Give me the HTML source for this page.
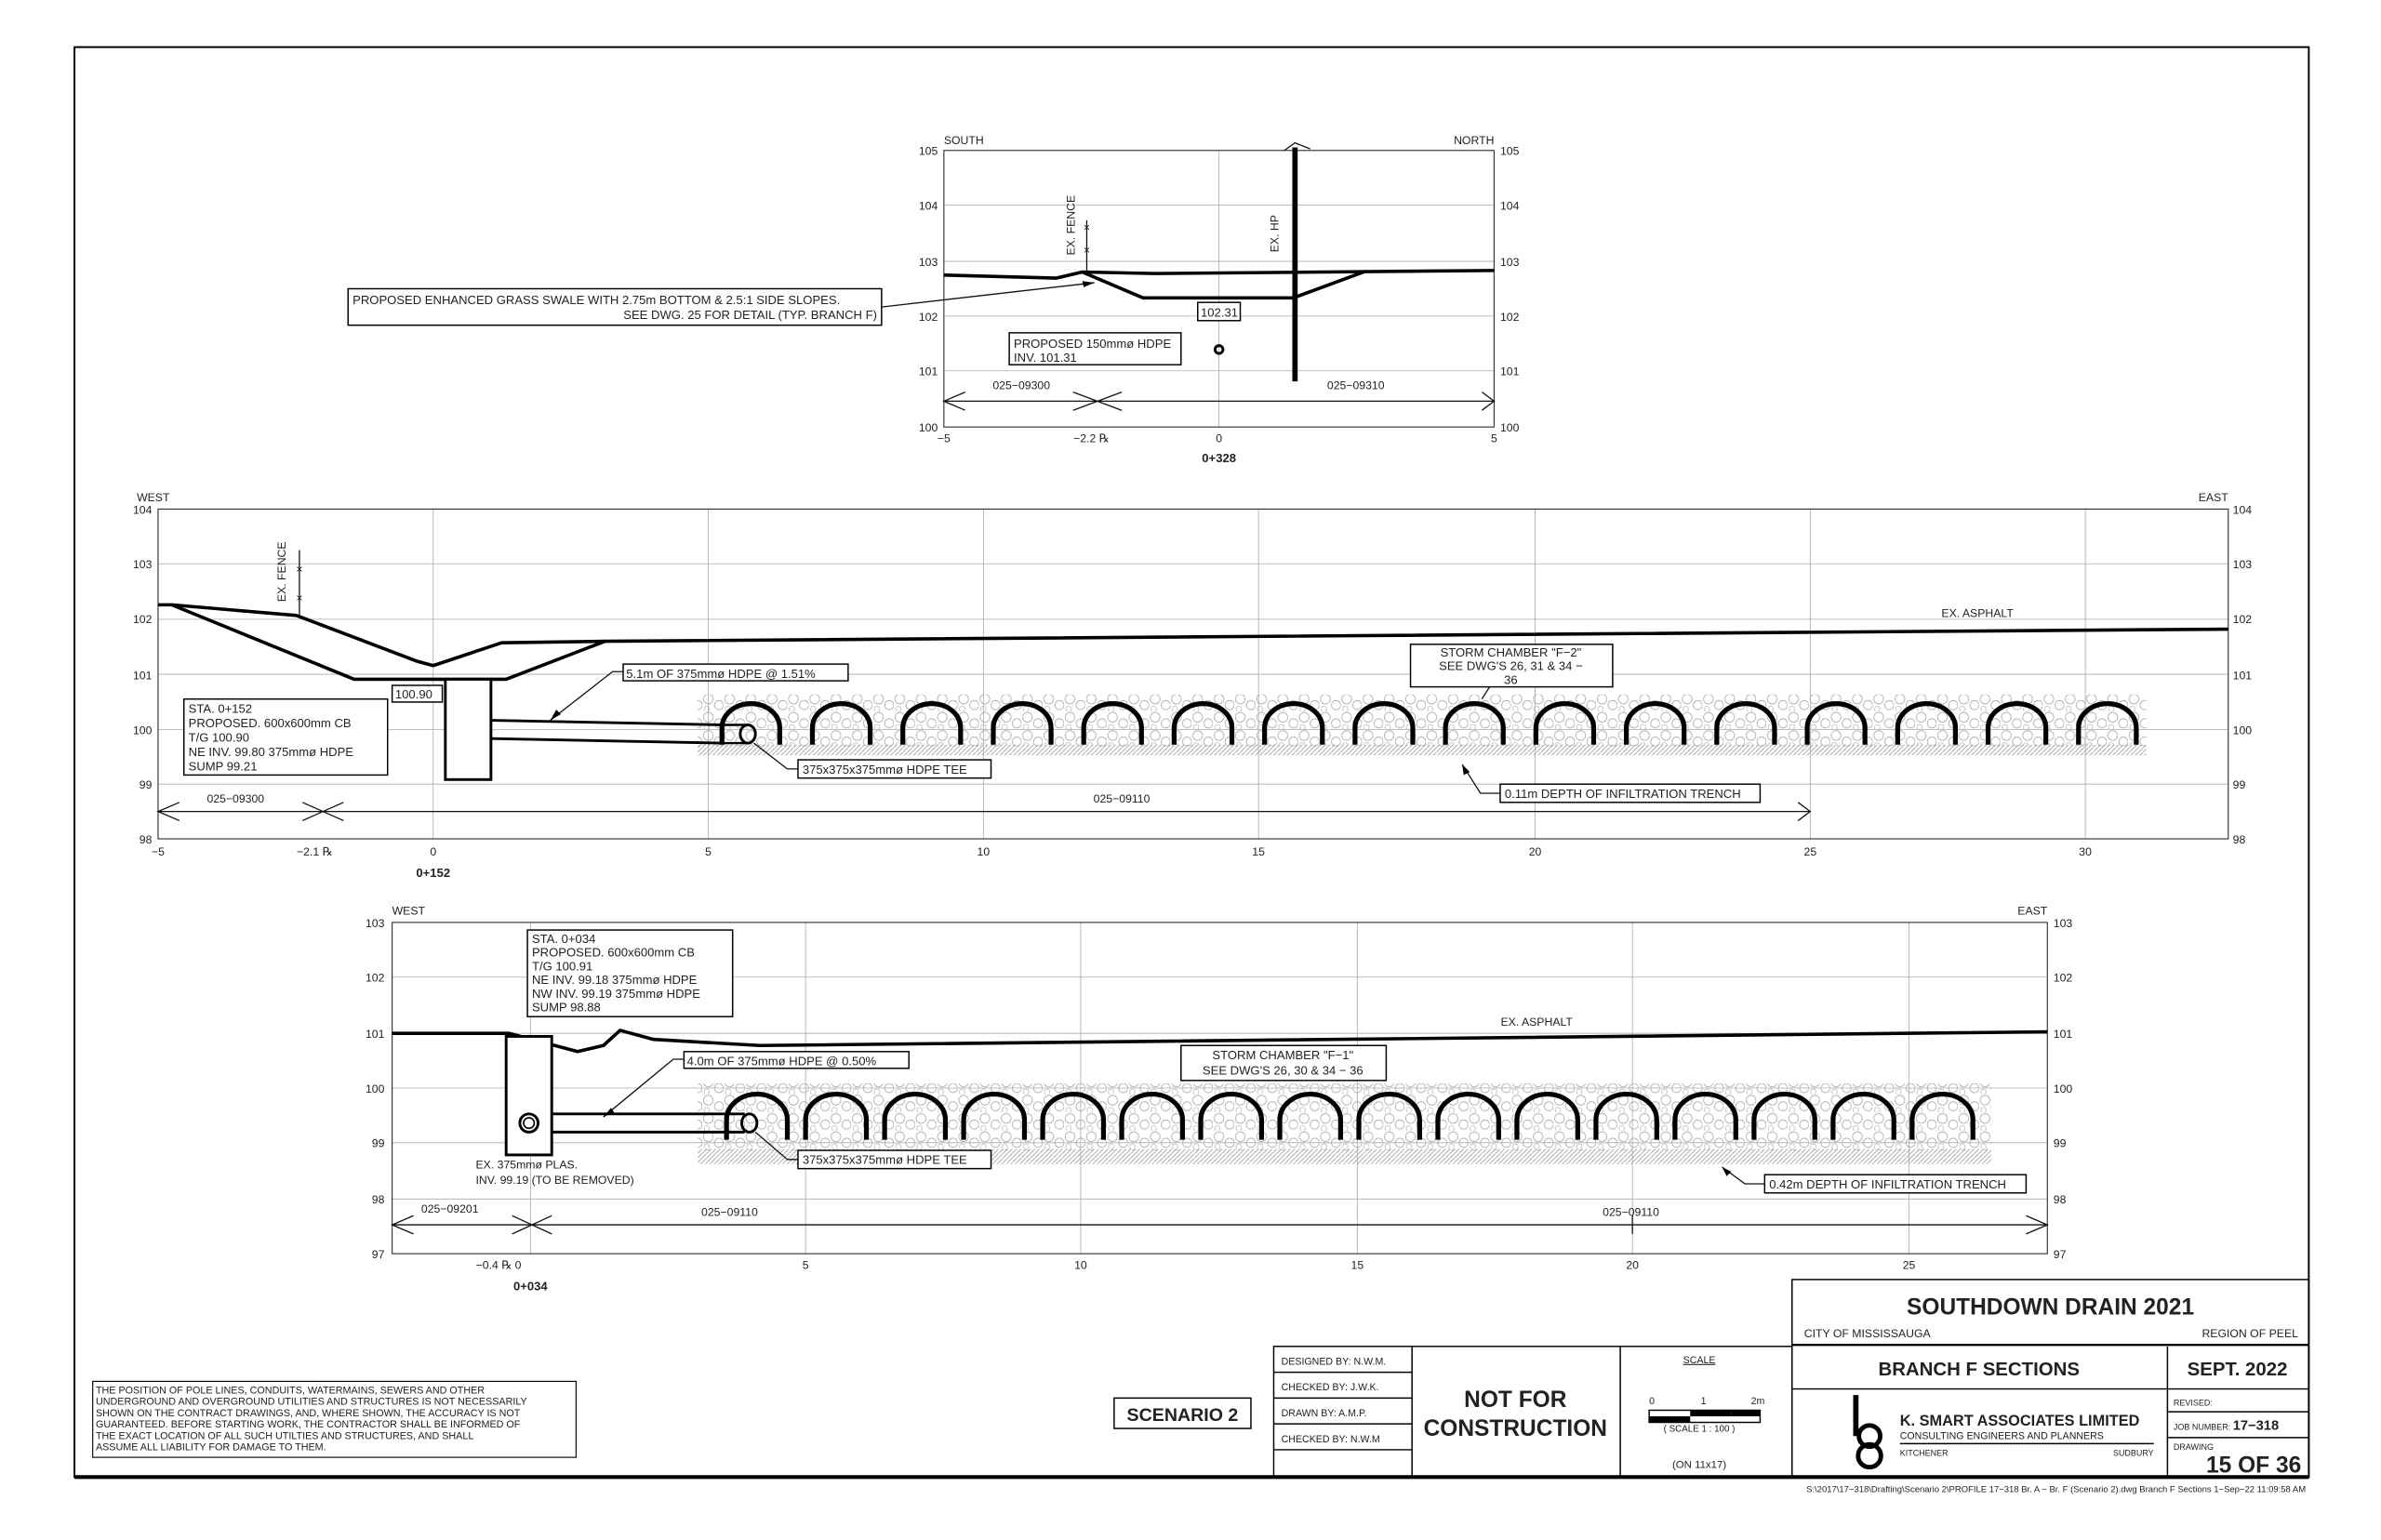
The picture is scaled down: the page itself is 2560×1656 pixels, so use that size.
<!DOCTYPE html>
<html><head><meta charset="utf-8"><style>
html,body{margin:0;padding:0;background:#fff}
svg{display:block}
text{font-family:"Liberation Sans",sans-serif;fill:#222}
.g{stroke:#aaa;stroke-width:.5;fill:none}
.a{stroke:#111;stroke-width:.8;fill:none}
.t{stroke:#000;stroke-width:2.2;fill:none;stroke-linejoin:round}
.s{font-size:7.5px}
.m{font-size:8px}
.b{font-weight:bold}
.box{fill:#fff;stroke:#000;stroke-width:.9}
</style></head><body>
<svg width="2560" height="1656" viewBox="0 0 1566.5 1013.4" preserveAspectRatio="none" xmlns="http://www.w3.org/2000/svg">
<defs>
<pattern id="grav" width="14" height="12" patternUnits="userSpaceOnUse">
<circle cx="4" cy="4" r="3.2" fill="none" stroke="#aaa" stroke-width=".5"/>
<circle cx="11" cy="8" r="3" fill="none" stroke="#aaa" stroke-width=".5"/>
<circle cx="3" cy="10.5" r="1.8" fill="none" stroke="#bbb" stroke-width=".5"/>
</pattern>
<pattern id="hat" width="3" height="3" patternUnits="userSpaceOnUse">
<path d="M0,3 L3,0" stroke="#999" stroke-width=".5"/>
</pattern>
<g id="arch1"><path d="M0,28 L0,17 A19,16 0 0 1 38,17 L38,28" fill="none" stroke="#000" stroke-width="3.2"/></g>
<g id="arch2"><path d="M0,32 L0,19 A20,17 0 0 1 40,19 L40,32" fill="none" stroke="#000" stroke-width="3.2"/></g>
</defs>

<rect x="49" y="31" width="1470" height="941" fill="none" stroke="#000" stroke-width="1.2"/>
<line x1="49" y1="972" x2="1519" y2="972" stroke="#000" stroke-width="2.5"/>

<!-- TOP -->
<g>
<line class="g" x1="621" y1="135" x2="983" y2="135"/>
<line class="g" x1="621" y1="172" x2="983" y2="172"/>
<line class="g" x1="621" y1="208" x2="983" y2="208"/>
<line class="g" x1="621" y1="244" x2="983" y2="244"/>
<line class="g" x1="802" y1="99" x2="802" y2="281"/>
<rect x="621" y="99" width="362" height="182" fill="none" stroke="#333" stroke-width=".7"/>
<g class="s" text-anchor="end"><text x="617" y="102">105</text><text x="617" y="138">104</text><text x="617" y="175">103</text><text x="617" y="211">102</text><text x="617" y="247">101</text><text x="617" y="284">100</text></g>
<g class="s"><text x="987" y="102">105</text><text x="987" y="138">104</text><text x="987" y="175">103</text><text x="987" y="211">102</text><text x="987" y="247">101</text><text x="987" y="284">100</text></g>
<text class="s" x="621" y="95">SOUTH</text><text class="s" x="983" y="95" text-anchor="end">NORTH</text>
<g class="s" text-anchor="middle"><text x="621" y="291">−5</text><text x="718" y="291">−2.2 ℞</text><text x="802" y="291">0</text><text x="983" y="291">5</text></g>
<text x="802" y="304" class="m b" text-anchor="middle">0+328</text>
<path class="t" d="M621,181 L695,183 L712,179 L760,180 L983,178"/>
<path class="t" d="M712,179 L752,196 L851,196 L897,179"/>
<line x1="852" y1="97" x2="852" y2="251" stroke="#000" stroke-width="3.5"/>
<path class="a" d="M845,99 L852,94 L862,98"/>
<line class="a" x1="715" y1="178" x2="715" y2="145"/>
<text class="s" x="715" y="152" text-anchor="middle">×</text><text class="s" x="715" y="167" text-anchor="middle">×</text>
<text class="s" transform="translate(707,168) rotate(-90)">EX. FENCE</text>
<text class="s" transform="translate(841,166) rotate(-90)">EX. HP</text>
<circle cx="802" cy="230" r="2.6" fill="none" stroke="#000" stroke-width="1.8"/>
<rect class="box" x="788" y="199" width="28" height="12"/><text class="m" x="790" y="208.5">102.31</text>
<rect class="box" x="664" y="219" width="113" height="21"/><text class="m" x="667" y="229">PROPOSED 150mmø HDPE</text><text class="m" x="667" y="238">INV. 101.31</text>
<line class="a" x1="621" y1="264" x2="983" y2="264"/>
<path class="a" d="M635,258 L621,264 L635,270 M975,258 L983,264 L975,270 M706,258 L738,270 M706,270 L738,258"/>
<text class="s" x="672" y="256" text-anchor="middle">025−09300</text><text class="s" x="892" y="256" text-anchor="middle">025−09310</text>
<rect class="box" x="229" y="190" width="351" height="24"/>
<text class="m" x="232" y="200">PROPOSED ENHANCED GRASS SWALE WITH 2.75m BOTTOM &amp; 2.5:1 SIDE SLOPES.</text>
<text class="m" x="577" y="210" text-anchor="end">SEE DWG. 25 FOR DETAIL (TYP. BRANCH F)</text>
<path class="a" d="M580,202 L720,186"/><path d="M720,186 L712,185 L713,189 Z" fill="#000"/>
</g>

<!-- MIDDLE -->
<g>
<g class="g">
<line x1="104" y1="371" x2="1466" y2="371"/><line x1="104" y1="407.5" x2="1466" y2="407.5"/><line x1="104" y1="443.7" x2="1466" y2="443.7"/><line x1="104" y1="480" x2="1466" y2="480"/><line x1="104" y1="516" x2="1466" y2="516"/>
<line x1="285" y1="335" x2="285" y2="552"/><line x1="466" y1="335" x2="466" y2="552"/><line x1="647" y1="335" x2="647" y2="552"/><line x1="828" y1="335" x2="828" y2="552"/><line x1="1010" y1="335" x2="1010" y2="552"/><line x1="1191" y1="335" x2="1191" y2="552"/><line x1="1372" y1="335" x2="1372" y2="552"/>
</g>
<rect x="104" y="335" width="1362" height="217" fill="none" stroke="#333" stroke-width=".7"/>
<g class="s" text-anchor="end"><text x="100" y="338">104</text><text x="100" y="374">103</text><text x="100" y="410">102</text><text x="100" y="447">101</text><text x="100" y="483">100</text><text x="100" y="519">99</text><text x="100" y="555">98</text></g>
<g class="s"><text x="1469" y="338">104</text><text x="1469" y="374">103</text><text x="1469" y="410">102</text><text x="1469" y="447">101</text><text x="1469" y="483">100</text><text x="1469" y="519">99</text><text x="1469" y="555">98</text></g>
<text class="s" x="90" y="330">WEST</text><text class="s" x="1466" y="330" text-anchor="end">EAST</text>
<g class="s" text-anchor="middle"><text x="104" y="563">−5</text><text x="207" y="563">−2.1 ℞</text><text x="285" y="563">0</text><text x="466" y="563">5</text><text x="647" y="563">10</text><text x="828" y="563">15</text><text x="1010" y="563">20</text><text x="1191" y="563">25</text><text x="1372" y="563">30</text></g>
<text x="285" y="577" class="m b" text-anchor="middle">0+152</text>
<rect x="459" y="457" width="953" height="34" fill="url(#grav)"/>
<rect x="459" y="490" width="953" height="7" fill="url(#hat)"/>
<g>
<use href="#arch1" x="475" y="462"/><use href="#arch1" x="534.5" y="462"/><use href="#arch1" x="594" y="462"/><use href="#arch1" x="653.5" y="462"/><use href="#arch1" x="713" y="462"/><use href="#arch1" x="772.5" y="462"/><use href="#arch1" x="832" y="462"/><use href="#arch1" x="891.5" y="462"/><use href="#arch1" x="951" y="462"/><use href="#arch1" x="1010.5" y="462"/><use href="#arch1" x="1070" y="462"/><use href="#arch1" x="1129.5" y="462"/><use href="#arch1" x="1189" y="462"/><use href="#arch1" x="1248.5" y="462"/><use href="#arch1" x="1308" y="462"/><use href="#arch1" x="1367.5" y="462"/>
</g>
<path class="t" d="M104,398 L113,398 L195,405 L274,435 L285,438 L330,423 L398,422 L1466,414"/>
<path class="t" d="M113,398 L233,447 L333,447 L398,422"/>
<line class="a" x1="197" y1="362" x2="197" y2="405"/>
<text class="s" x="197" y="377" text-anchor="middle">×</text><text class="s" x="197" y="396" text-anchor="middle">×</text>
<text class="s" transform="translate(188,396) rotate(-90)">EX. FENCE</text>
<rect x="293" y="447" width="30" height="66" fill="#fff" stroke="#000" stroke-width="1.8"/>
<path class="t" style="stroke-width:1.8" d="M323,474 L475,477 M323,486 L475,489"/>
<ellipse cx="492" cy="483" rx="5" ry="6" fill="none" stroke="#000" stroke-width="1.8"/>
<line x1="475" y1="477" x2="492" y2="477" stroke="#000" stroke-width="1.5"/><line x1="475" y1="489" x2="492" y2="489" stroke="#000" stroke-width="1.5"/>
<rect class="box" x="258" y="451" width="33" height="11"/><text class="m" x="260" y="459.5">100.90</text>
<rect class="box" x="121" y="460" width="134" height="50"/>
<g class="m"><text x="124" y="469">STA. 0+152</text><text x="124" y="478.5">PROPOSED. 600x600mm CB</text><text x="124" y="488">T/G 100.90</text><text x="124" y="497.5">NE INV. 99.80 375mmø HDPE</text><text x="124" y="507">SUMP 99.21</text></g>
<rect class="box" x="410" y="437" width="148" height="11"/><text class="m" x="412" y="446">5.1m OF 375mmø HDPE @ 1.51%</text>
<path class="a" d="M410,442 L403,442 L362,474"/><path d="M362,474 L366,467 L369,470 Z" fill="#000"/>
<rect class="box" x="928" y="424" width="133" height="28"/>
<g class="m" text-anchor="middle"><text x="994" y="432">STORM CHAMBER "F−2"</text><text x="994" y="441">SEE DWG'S 26, 31 &amp; 34 −</text><text x="994" y="450">36</text></g>
<path class="a" d="M980,452 L975,460"/>
<rect class="box" x="525" y="500" width="127" height="12"/><text class="m" x="528" y="509">375x375x375mmø HDPE TEE</text>
<path class="a" d="M525,506 L518,506 L496,489"/>
<rect class="box" x="987" y="516" width="171" height="12"/><text class="m" x="990" y="525">0.11m DEPTH OF INFILTRATION TRENCH</text>
<path class="a" d="M987,522 L974,522 L962,503"/><path d="M962,503 L963,510 L967,508 Z" fill="#000"/>
<line class="a" x1="104" y1="534" x2="1191" y2="534"/>
<path class="a" d="M118,528 L104,534 L118,540 M1183,528 L1191,534 L1183,540 M199,528 L226,540 M199,540 L226,528"/>
<text class="s" x="155" y="528" text-anchor="middle">025−09300</text><text class="s" x="738" y="528" text-anchor="middle">025−09110</text>
<text class="s" x="1301" y="406" text-anchor="middle">EX. ASPHALT</text>
</g>

<!-- BOTTOM -->
<g>
<g class="g">
<line x1="258" y1="643" x2="1347" y2="643"/><line x1="258" y1="680" x2="1347" y2="680"/><line x1="258" y1="716" x2="1347" y2="716"/><line x1="258" y1="752" x2="1347" y2="752"/><line x1="258" y1="789" x2="1347" y2="789"/>
<line x1="349" y1="607" x2="349" y2="825"/><line x1="530" y1="607" x2="530" y2="825"/><line x1="711" y1="607" x2="711" y2="825"/><line x1="893" y1="607" x2="893" y2="825"/><line x1="1074" y1="607" x2="1074" y2="825"/><line x1="1256" y1="607" x2="1256" y2="825"/>
</g>
<rect x="258" y="607" width="1089" height="218" fill="none" stroke="#333" stroke-width=".7"/>
<g class="s" text-anchor="end"><text x="253" y="610">103</text><text x="253" y="646">102</text><text x="253" y="683">101</text><text x="253" y="719">100</text><text x="253" y="755">99</text><text x="253" y="792">98</text><text x="253" y="828">97</text></g>
<g class="s"><text x="1351" y="610">103</text><text x="1351" y="646">102</text><text x="1351" y="683">101</text><text x="1351" y="719">100</text><text x="1351" y="755">99</text><text x="1351" y="792">98</text><text x="1351" y="828">97</text></g>
<text class="s" x="258" y="602">WEST</text><text class="s" x="1347" y="602" text-anchor="end">EAST</text>
<g class="s" text-anchor="middle"><text x="328" y="835">−0.4 ℞ 0</text><text x="530" y="835">5</text><text x="711" y="835">10</text><text x="893" y="835">15</text><text x="1074" y="835">20</text><text x="1256" y="835">25</text></g>
<text x="349" y="849" class="m b" text-anchor="middle">0+034</text>
<rect x="459" y="713" width="851" height="44" fill="url(#grav)"/>
<rect x="459" y="756" width="851" height="10" fill="url(#hat)"/>
<g>
<use href="#arch2" x="478" y="718"/><use href="#arch2" x="530" y="718"/><use href="#arch2" x="582" y="718"/><use href="#arch2" x="634" y="718"/><use href="#arch2" x="686" y="718"/><use href="#arch2" x="738" y="718"/><use href="#arch2" x="790" y="718"/><use href="#arch2" x="842" y="718"/><use href="#arch2" x="894" y="718"/><use href="#arch2" x="946" y="718"/><use href="#arch2" x="998" y="718"/><use href="#arch2" x="1050" y="718"/><use href="#arch2" x="1102" y="718"/><use href="#arch2" x="1154" y="718"/><use href="#arch2" x="1206" y="718"/><use href="#arch2" x="1258" y="718"/>
</g>
<path class="t" d="M258,680 L335,680 L380,692 L397,688 L408,678 L430,684 L500,688 L1347,679"/>
<rect x="333" y="682" width="30" height="78" fill="#fff" stroke="#000" stroke-width="1.8"/>
<circle cx="348" cy="739" r="6" fill="none" stroke="#000" stroke-width="1.8"/><circle cx="348" cy="739" r="3.5" fill="none" stroke="#000" stroke-width="1"/>
<path class="t" style="stroke-width:1.8" d="M363,733 L490,733 M363,745 L490,745"/>
<ellipse cx="493" cy="739" rx="5" ry="6" fill="none" stroke="#000" stroke-width="1.8"/>
<rect class="box" x="347" y="612" width="135" height="57"/>
<g class="m"><text x="350" y="620.5">STA. 0+034</text><text x="350" y="629.5">PROPOSED. 600x600mm CB</text><text x="350" y="638.5">T/G 100.91</text><text x="350" y="647.5">NE INV. 99.18 375mmø HDPE</text><text x="350" y="656.5">NW INV. 99.19 375mmø HDPE</text><text x="350" y="665.5">SUMP 98.88</text></g>
<rect class="box" x="450" y="692" width="148" height="11"/><text class="m" x="452" y="701">4.0m OF 375mmø HDPE @ 0.50%</text>
<path class="a" d="M450,697 L443,697 L397,735"/><path d="M397,735 L402,729 L404,732 Z" fill="#000"/>
<rect class="box" x="777" y="688" width="135" height="23"/>
<g class="m" text-anchor="middle"><text x="844" y="697">STORM CHAMBER "F−1"</text><text x="844" y="707">SEE DWG'S 26, 30 &amp; 34 − 36</text></g>
<rect class="box" x="525" y="757" width="127" height="12"/><text class="m" x="528" y="766">375x375x375mmø HDPE TEE</text>
<path class="a" d="M525,763 L518,763 L497,745"/>
<rect class="box" x="1161" y="773" width="172" height="12"/><text class="m" x="1164" y="782">0.42m DEPTH OF INFILTRATION TRENCH</text>
<path class="a" d="M1161,779 L1148,779 L1133,768"/><path d="M1133,768 L1136,774 L1139,771 Z" fill="#000"/>
<text class="s" x="313" y="769">EX. 375mmø PLAS.</text><text class="s" x="313" y="779">INV. 99.19 (TO BE REMOVED)</text>
<line class="a" x1="258" y1="806" x2="1347" y2="806"/>
<path class="a" d="M272,800 L258,806 L272,812 M1333,800 L1347,806 L1333,812 M337,800 L363,812 M337,812 L363,800"/>
<line class="a" x1="1074" y1="800" x2="1074" y2="812"/>
<text class="s" x="296" y="798" text-anchor="middle">025−09201</text><text class="s" x="480" y="800" text-anchor="middle">025−09110</text><text class="s" x="1073" y="800" text-anchor="middle">025−09110</text>
<text class="s" x="1011" y="675" text-anchor="middle">EX. ASPHALT</text>
</g>

<!-- TITLE BLOCK -->
<g fill="none" stroke="#000" stroke-width=".9">
<rect x="1179" y="842" width="340" height="130"/>
<line x1="1179" y1="885" x2="1519" y2="885" stroke-width="1.5"/>
<rect x="838" y="886" width="341" height="86"/>
<line x1="929" y1="886" x2="929" y2="972"/><line x1="1066" y1="886" x2="1066" y2="972"/>
<line x1="838" y1="903" x2="929" y2="903"/><line x1="838" y1="920" x2="929" y2="920"/><line x1="838" y1="937" x2="929" y2="937"/><line x1="838" y1="954" x2="929" y2="954"/>
<line x1="1426" y1="886" x2="1426" y2="972"/><line x1="1179" y1="914" x2="1519" y2="914"/>
<line x1="1426" y1="929" x2="1519" y2="929"/><line x1="1426" y1="946" x2="1519" y2="946"/>
<line x1="1250" y1="950" x2="1417" y2="950"/>
</g>
<text x="1349" y="865" font-size="15" class="b" text-anchor="middle">SOUTHDOWN DRAIN 2021</text>
<text class="s" x="1187" y="880">CITY OF MISSISSAUGA</text><text class="s" x="1512" y="880" text-anchor="end">REGION OF PEEL</text>
<text x="1302" y="905" font-size="12.5" class="b" text-anchor="middle">BRANCH F SECTIONS</text>
<text x="1472" y="905" font-size="12.5" class="b" text-anchor="middle">SEPT. 2022</text>
<g font-size="6.5px"><text x="843" y="898">DESIGNED BY: N.W.M.</text><text x="843" y="915">CHECKED BY: J.W.K.</text><text x="843" y="932">DRAWN BY:    A.M.P.</text><text x="843" y="949">CHECKED BY: N.W.M</text></g>
<text x="997" y="926" font-size="15" class="b" text-anchor="middle">NOT FOR</text>
<text x="997" y="945" font-size="15" class="b" text-anchor="middle">CONSTRUCTION</text>
<text x="1118" y="897" font-size="6.5" text-anchor="middle" text-decoration="underline">SCALE</text>
<text x="1085" y="924" font-size="6.5">0</text><text x="1119" y="924" font-size="6.5">1</text><text x="1152" y="924" font-size="6.5">2m</text>
<rect x="1085" y="928" width="73" height="8" fill="#fff" stroke="#000" stroke-width=".9"/>
<rect x="1085" y="932" width="27" height="4" fill="#000"/><rect x="1112" y="928" width="27" height="4" fill="#000"/><rect x="1139" y="928" width="19" height="4" fill="#000"/>
<text x="1118" y="942" font-size="6" text-anchor="middle">( SCALE   1 : 100 )</text>
<text x="1118" y="966" font-size="7" text-anchor="middle">(ON 11x17)</text>
<g fill="none" stroke="#000">
<line x1="1221" y1="918" x2="1221" y2="945" stroke-width="3.5"/>
<circle cx="1230" cy="945" r="7" stroke-width="3"/><circle cx="1230" cy="958" r="7.5" stroke-width="3"/>
</g>
<text x="1250" y="938" font-size="10" class="b">K. SMART ASSOCIATES LIMITED</text>
<text x="1250" y="947" font-size="6.5">CONSULTING ENGINEERS AND PLANNERS</text>
<text x="1250" y="958" font-size="5.5">KITCHENER</text><text x="1417" y="958" font-size="5.5" text-anchor="end">SUDBURY</text>
<text x="1430" y="925" font-size="5.5">REVISED:</text>
<text x="1430" y="941" font-size="5.5">JOB NUMBER: <tspan font-size="9" font-weight="bold">17−318</tspan></text>
<text x="1430" y="954" font-size="5.5">DRAWING</text>
<text x="1514" y="969" font-size="15" class="b" text-anchor="end">15 OF 36</text>
<rect x="733" y="920" width="90" height="20" fill="none" stroke="#000" stroke-width=".9"/>
<text x="778" y="935" font-size="12" class="b" text-anchor="middle">SCENARIO 2</text>
<rect x="61" y="909" width="318" height="50" fill="none" stroke="#000" stroke-width=".7"/>
<g font-size="6.6px"><text x="63" y="917">THE POSITION OF POLE LINES, CONDUITS, WATERMAINS, SEWERS AND OTHER</text><text x="63" y="924.5">UNDERGROUND AND OVERGROUND UTILITIES AND STRUCTURES IS NOT NECESSARILY</text><text x="63" y="932">SHOWN ON THE CONTRACT DRAWINGS, AND, WHERE SHOWN, THE ACCURACY IS NOT</text><text x="63" y="939.5">GUARANTEED. BEFORE STARTING WORK, THE CONTRACTOR SHALL BE INFORMED OF</text><text x="63" y="947">THE EXACT LOCATION OF ALL SUCH UTILTIES AND STRUCTURES, AND SHALL</text><text x="63" y="954.5">ASSUME ALL LIABILITY FOR DAMAGE TO THEM.</text></g>
<text x="1517" y="982" font-size="5.8" text-anchor="end">S:\2017\17−318\Drafting\Scenario 2\PROFILE 17−318 Br. A − Br. F (Scenario 2).dwg Branch F Sections   1−Sep−22 11:09:58 AM</text>
</svg>
</body></html>
